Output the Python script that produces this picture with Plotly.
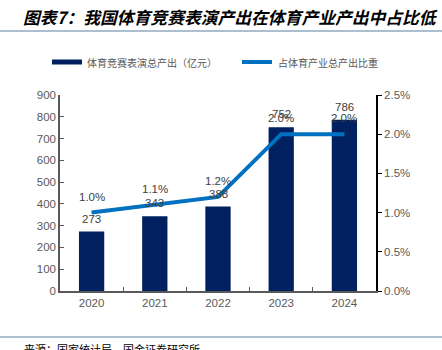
import plotly.graph_objects as go

years = ["2020", "2021", "2022", "2023", "2024"]
output_100m = [273, 343, 388, 752, 786]
share_pct = [1.0, 1.1, 1.2, 2.0, 2.0]
left_ticks = [0, 100, 200, 300, 400, 500, 600, 700, 800, 900]
right_ticks = [0.0, 0.5, 1.0, 1.5, 2.0, 2.5]

W, H = 442, 350
L, R, T, B = 60, 376, 95, 291
PW, PH = R - L, B - T

def px(x):
    return (x - L) / PW

def py(y):
    return (B - y) / PH

NUM_FONT = "Liberation Sans, Arial, sans-serif"
CJK_FONT = "Noto Sans CJK SC, sans-serif"
BAR_C = "#002060"
LINE_C = "#0070C0"
GREY = "#595959"
LABEL_C = "#404040"

fig = go.Figure()
fig.add_trace(go.Bar(
    x=years, y=output_100m, name="体育竞赛表演总产出（亿元）",
    marker=dict(color=BAR_C, line=dict(width=0)), width=0.4,
    yaxis="y",
))
fig.add_trace(go.Scatter(
    x=years, y=share_pct, name="占体育产业总产出比重", mode="lines",
    line=dict(color=LINE_C, width=4),
    cliponaxis=False, yaxis="y2",
))

shapes = [
    dict(type="line", xref="paper", yref="paper", x0=px(0), x1=px(W), y0=py(31), y1=py(31),
         line=dict(color="#8FAAC0", width=1.5)),
    dict(type="line", xref="paper", yref="paper", x0=px(0), x1=px(W), y0=py(337), y1=py(337),
         line=dict(color="#8FAAC0", width=1.5)),
    dict(type="rect", xref="paper", yref="paper", x0=px(52), x1=px(82), y0=py(64.5), y1=py(59.5),
         fillcolor=BAR_C, line=dict(width=0)),
    dict(type="line", xref="paper", yref="paper", x0=px(242), x1=px(272), y0=py(62), y1=py(62),
         line=dict(color=LINE_C, width=4)),
]

annotations = [
    dict(text="<b><i>图表7：我国体育竞赛表演产出在体育产业产出中占比低</i></b>", xref="paper", yref="paper",
         x=px(21), y=py(17), xanchor="left", yanchor="middle", showarrow=False,
         font=dict(family=CJK_FONT, size=16.8, color="#000000")),
    dict(text="体育竞赛表演总产出（亿元）", xref="paper", yref="paper",
         x=px(85), y=py(62), xanchor="left", yanchor="middle", showarrow=False,
         font=dict(family=CJK_FONT, size=10, color=GREY)),
    dict(text="占体育产业总产出比重", xref="paper", yref="paper",
         x=px(276), y=py(62), xanchor="left", yanchor="middle", showarrow=False,
         font=dict(family=CJK_FONT, size=10, color=GREY)),
    dict(text="来源：国家统计局，国金证券研究所", xref="paper", yref="paper",
         x=px(22), y=py(349), xanchor="left", yanchor="middle", showarrow=False,
         font=dict(family=CJK_FONT, size=11, color="#000000")),
]

# bar value labels (category index positions)
for i, v in enumerate(output_100m):
    annotations.append(dict(text=str(v), x=i, y=v, xref="x", yref="y",
                            yanchor="middle", yshift=13, showarrow=False,
                            font=dict(family=NUM_FONT, size=11.5, color=LABEL_C)))
# line value labels
for i, v in enumerate(share_pct):
    annotations.append(dict(text=f"{v:.1f}%", x=i, y=v, xref="x", yref="y2",
                            yanchor="middle", yshift=16, showarrow=False,
                            font=dict(family=NUM_FONT, size=11.5, color=LABEL_C)))

fig.update_layout(
    width=W, height=H,
    margin=dict(l=L, r=W - R, t=T, b=H - B, pad=0),
    paper_bgcolor="white", plot_bgcolor="white",
    showlegend=False, bargap=0.6,
    shapes=shapes, annotations=annotations,
    xaxis=dict(type="category", categoryorder="array", categoryarray=years,
               showgrid=False, showline=True, linecolor=GREY, linewidth=1.5,
               ticks="inside", tickson="boundaries", ticklen=4, tickcolor=GREY,
               tickfont=dict(family=NUM_FONT, size=11.5, color=GREY)),
    yaxis=dict(range=[0, 900], tickvals=left_ticks, showgrid=False, zeroline=False,
               showline=True, linecolor=GREY, linewidth=1.5, ticks="inside", ticklen=4,
               tickcolor=GREY, tickfont=dict(family=NUM_FONT, size=11.5, color=GREY)),
    yaxis2=dict(range=[0, 2.5], tickvals=right_ticks,
                ticktext=[f"{v:.1f}%" for v in right_ticks],
                overlaying="y", side="right", showgrid=False, zeroline=False,
                showline=True, linecolor="#000000", linewidth=1.5, ticks="outside",
                ticklen=4, tickcolor="#000000",
                tickfont=dict(family=NUM_FONT, size=11.5, color=GREY)),
)

fig.write_html("out.html")
